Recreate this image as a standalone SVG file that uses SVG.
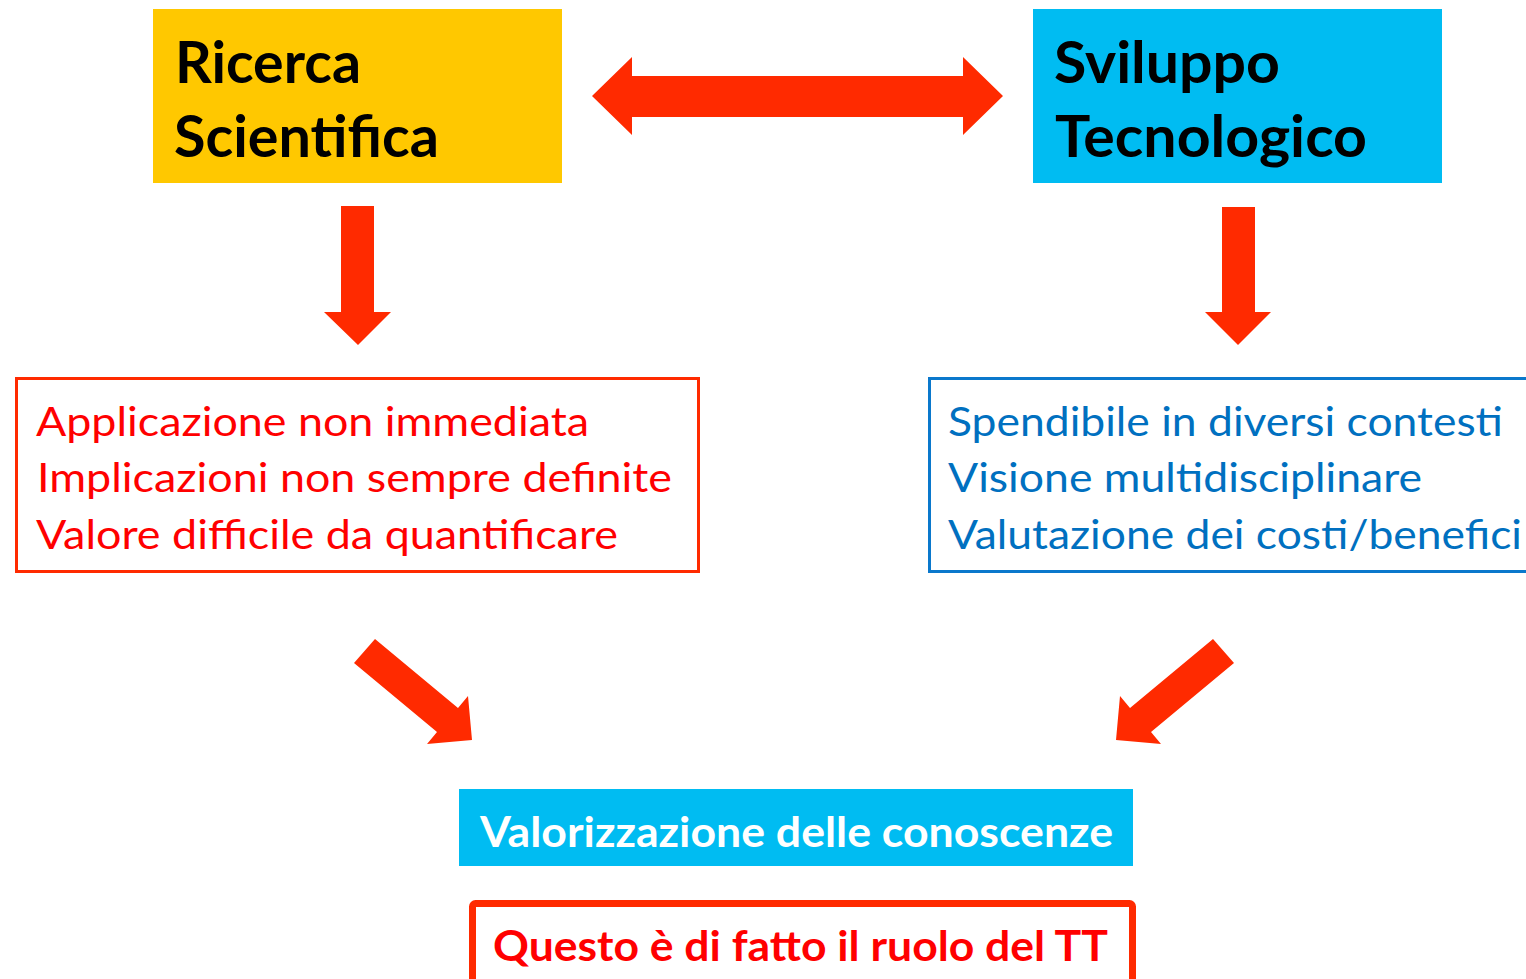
<svg xmlns="http://www.w3.org/2000/svg" width="1526" height="979" viewBox="0 0 1526 979">
<style>
.title{font-family:Lato,"Open Sans","Liberation Sans",sans-serif;font-weight:bold;font-size:57px;fill:#000}
.list{font-family:Lato,"Open Sans","Liberation Sans",sans-serif;font-size:40px}
.red{fill:#FF0000}
.blue{fill:#0070C0}
.bold{font-family:Lato,"Open Sans","Liberation Sans",sans-serif;font-weight:bold;font-size:42px}
.arrow{fill:#FF2A00}
</style>
<rect width="1526" height="979" fill="#fff"/>
<g id="connectors">
<polygon class="arrow" points="592,96 632,57 632,76 963,76 963,57 1003,96 963,135 963,117 632,117 632,135"/>
<polygon class="arrow" points="341,206 374,206 374,312 391,312 358,345 324,312 341,312"/>
<polygon class="arrow" points="1222,207 1255,207 1255,312 1271,312 1238,345 1205,312 1222,312"/>
<polygon class="arrow" points="354,663 375,639 458,708 468,696 472,740 427,744 437,732"/>
<polygon class="arrow" points="1234,663 1213,639 1130,708 1120,696 1116,740 1161,744 1151,732"/>
</g>
<g id="ricerca">
<rect x="153" y="9" width="409" height="174" fill="#FFC800"/>
<text class="title" x="175" y="83" textLength="186" lengthAdjust="spacingAndGlyphs">Ricerca</text>
<text class="title" x="174" y="157" textLength="265" lengthAdjust="spacingAndGlyphs">Scientifica</text>
</g>
<g id="sviluppo">
<rect x="1033" y="9" width="409" height="174" fill="#00BCF2"/>
<text class="title" x="1054" y="83" textLength="226" lengthAdjust="spacingAndGlyphs">Sviluppo</text>
<text class="title" x="1055" y="157" textLength="312" lengthAdjust="spacingAndGlyphs">Tecnologico</text>
</g>
<g id="ricerca-props">
<rect x="16.5" y="378.5" width="682" height="193" fill="#fff" stroke="#FF2A00" stroke-width="3"/>
<text class="list red" x="36" y="436" textLength="553" lengthAdjust="spacingAndGlyphs">Applicazione non immediata</text>
<text class="list red" x="37" y="492" textLength="635" lengthAdjust="spacingAndGlyphs">Implicazioni non sempre definite</text>
<text class="list red" x="36" y="549" textLength="582" lengthAdjust="spacingAndGlyphs">Valore difficile da quantificare</text>
</g>
<g id="sviluppo-props">
<rect x="929.5" y="378.5" width="640" height="193" fill="#fff" stroke="#0A78CC" stroke-width="3"/>
<text class="list blue" x="948" y="436" textLength="555" lengthAdjust="spacingAndGlyphs">Spendibile in diversi contesti</text>
<text class="list blue" x="948" y="492" textLength="474" lengthAdjust="spacingAndGlyphs">Visione multidisciplinare</text>
<text class="list blue" x="948" y="549" textLength="574" lengthAdjust="spacingAndGlyphs">Valutazione dei costi/benefici</text>
</g>
<g id="valorizzazione">
<rect x="459" y="789" width="674" height="77" fill="#00BCF2"/>
<text class="bold" x="480" y="847" fill="#fff" textLength="633" lengthAdjust="spacingAndGlyphs">Valorizzazione delle conoscenze</text>
</g>
<g id="ruolo">
<rect x="472.5" y="903.5" width="660" height="100" rx="3" fill="#fff" stroke="#FF2A00" stroke-width="7"/>
<text class="bold red" x="493" y="961" textLength="615" lengthAdjust="spacingAndGlyphs">Questo è di fatto il ruolo del TT</text>
</g>
</svg>
